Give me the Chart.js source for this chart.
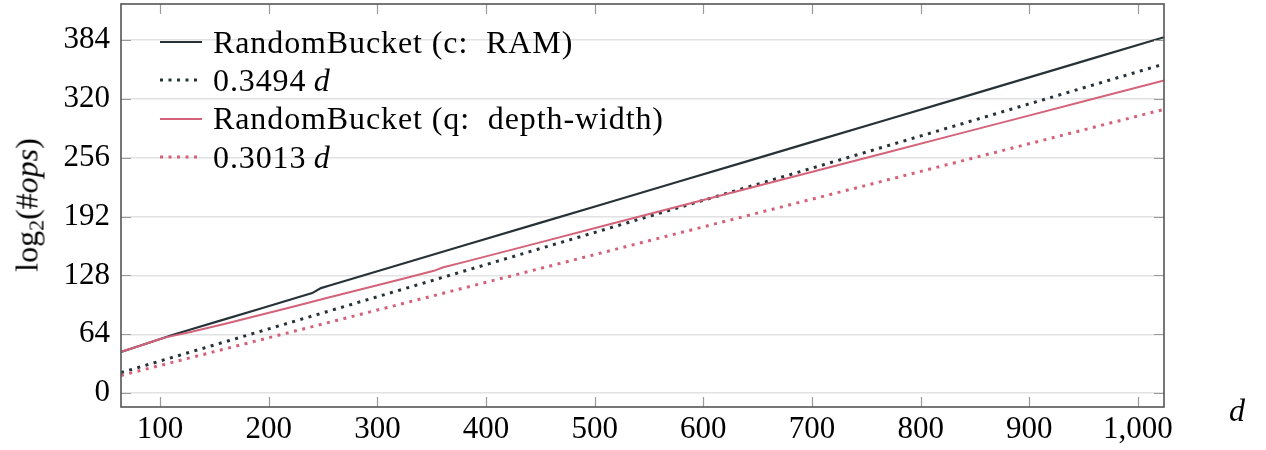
<!DOCTYPE html>
<html>
<head>
<meta charset="utf-8">
<script src="https://cdn.jsdelivr.net/npm/chart.js@4"></script>
<style>
  body { margin: 0; background: #fff; }
  #wrap { position: relative; width: 1266px; height: 450px; font-family: 'Liberation Serif', serif; color: #000; }
  #legend { position: absolute; left: 160px; top: 23px; font-size: 32px; letter-spacing: 0.9px; }
  .row { display: flex; align-items: center; height: 38.3px; }
  .row svg { margin-right: 11px; }
  #ytitle { position: absolute; left: 27px; top: 205px; font-size: 32px; white-space: nowrap;
            transform: translate(-50%, -50%) rotate(-90deg); }
  #ytitle sub { font-size: 22px; vertical-align: -6px; line-height: 0; }
  #xtitle { position: absolute; left: 1229px; top: 392px; font-size: 32px; font-style: italic; }
</style>
</head>
<body>
<div id="wrap">
  <canvas id="opsChart"></canvas>
  <div id="ytitle">log<sub>2</sub>(#<i>ops</i>)</div>
  <div id="xtitle">d</div>
  <div id="legend"></div>
</div>
<script>
// RandomBucket, classical RAM cost
const dRam = [64, 80, 96, 112, 128, 160, 192, 224, 240, 248, 256, 320, 384, 448, 512, 576, 640, 704, 768, 832, 896, 960, 1024];
const opsRam = [44.9, 51.0, 57.3, 63.5, 69.2, 80.5, 91.8, 103.2, 108.8, 114.2, 117.1, 139.6, 162.1, 184.6, 207.0, 229.5, 252.0, 274.5, 297.0, 319.4, 341.9, 364.4, 386.9];

// RandomBucket, quantum depth-width cost
const dQ = [64, 80, 96, 104, 128, 160, 192, 224, 256, 288, 320, 352, 360, 384, 448, 512, 576, 640, 704, 768, 832, 896, 960, 1024];
const opsQ = [44.9, 51.0, 57.3, 60.4, 66.5, 75.5, 85.0, 94.6, 104.2, 113.8, 123.4, 133.0, 136.6, 143.8, 163.4, 183.0, 202.6, 222.2, 241.8, 261.4, 281.0, 300.6, 320.2, 339.8];

// fitted lines (end points)
const dFit = [64, 1024];
const fitRam = [22.4, 357.8];
const fitQ = [19.3, 308.5];

const xTicks = [100, 200, 300, 400, 500, 600, 700, 800, 900, 1000];
const yTicks = [0, 64, 128, 192, 256, 320, 384];

const DARK = '#263238';
const RED = '#d4637a';

const toPoints = (xs, ys) => xs.map((x, i) => ({ x: x, y: ys[i] }));

const series = [
  { label: 'RandomBucket (c: RAM)', html: 'RandomBucket (c:&nbsp; RAM)', data: toPoints(dRam, opsRam), color: DARK, width: 2.2, dash: [] },
  { label: '0.3494 d', html: '0.3494&thinsp;<i>d</i>', data: toPoints(dFit, fitRam), color: DARK, width: 3, dash: [3, 5.5] },
  { label: 'RandomBucket (q: depth-width)', html: 'RandomBucket (q:&nbsp; depth-width)', data: toPoints(dQ, opsQ), color: RED, width: 2, dash: [] },
  { label: '0.3013 d', html: '0.3013&thinsp;<i>d</i>', data: toPoints(dFit, fitQ), color: RED, width: 3, dash: [3, 5.5] }
];

// inner tick marks on all four sides + frame
const frame = {
  id: 'frame',
  afterDraw(chart) {
    const ctx = chart.ctx;
    const { left, right, top, bottom } = chart.chartArea;
    const x = chart.scales.x;
    const y = chart.scales.y;
    ctx.save();
    ctx.strokeStyle = '#9a9a9a';
    ctx.lineWidth = 1.2;
    ctx.beginPath();
    xTicks.forEach((v) => {
      const px = Math.round(x.getPixelForValue(v)) + 0.5;
      ctx.moveTo(px, bottom); ctx.lineTo(px, bottom - 10);
      ctx.moveTo(px, top); ctx.lineTo(px, top + 10);
    });
    yTicks.forEach((v) => {
      const py = Math.round(y.getPixelForValue(v)) + 0.5;
      ctx.moveTo(left, py); ctx.lineTo(left + 10, py);
      ctx.moveTo(right, py); ctx.lineTo(right - 10, py);
    });
    ctx.stroke();
    ctx.strokeStyle = '#555';
    ctx.lineWidth = 1.6;
    ctx.strokeRect(left, top, right - left, bottom - top);
    ctx.restore();
  }
};

const tickFont = { family: "'Liberation Serif', serif", size: 31 };

const noPad = (scale) => {
  scale.paddingTop = 0;
  scale.paddingBottom = 0;
  scale.paddingLeft = 0;
  scale.paddingRight = 0;
};

new Chart(document.getElementById('opsChart'), {
  type: 'line',
  data: {
    datasets: series.map((s, i) => ({
      label: s.label,
      data: s.data,
      borderColor: s.color,
      backgroundColor: s.color,
      borderWidth: s.width,
      borderDash: s.dash,
      borderCapStyle: 'butt',
      pointRadius: 0,
      tension: 0,
      order: 3 - i
    }))
  },
  options: {
    responsive: true,
    maintainAspectRatio: false,
    animation: false,
    layout: { padding: { top: 4, right: 102, left: 0, bottom: 0 } },
    plugins: { legend: { display: false }, tooltip: { enabled: false } },
    scales: {
      x: {
        type: 'linear',
        min: 64,
        max: 1024,
        grid: { display: false },
        border: { display: false },
        afterBuildTicks: (scale) => { scale.ticks = xTicks.map((v) => ({ value: v })); },
        afterFit: (scale) => { scale.height = 43; noPad(scale); },
        ticks: {
          color: '#000',
          font: tickFont,
          padding: -4,
          maxRotation: 0,
          autoSkip: false,
          callback: (v) => v.toLocaleString('en-US')
        }
      },
      y: {
        type: 'linear',
        min: -15,
        max: 423,
        grid: { color: '#e2e2e2', lineWidth: 1.5, drawTicks: false },
        border: { display: false },
        afterBuildTicks: (scale) => { scale.ticks = yTicks.map((v) => ({ value: v })); },
        afterFit: (scale) => { scale.width = 121; noPad(scale); },
        ticks: {
          color: '#000',
          font: tickFont,
          padding: 11,
          autoSkip: false
        }
      }
    }
  },
  plugins: [frame]
});

// legend with italic d
const legendEl = document.getElementById('legend');
series.forEach((s) => {
  const row = document.createElement('div');
  row.className = 'row';
  const dash = s.dash.length ? ` stroke-dasharray="${s.dash.join(' ')}"` : '';
  row.innerHTML = `<svg width="42" height="10"><line x1="0" y1="5" x2="42" y2="5" stroke="${s.color}" stroke-width="${s.width}"${dash}/></svg><span>${s.html}</span>`;
  legendEl.appendChild(row);
});
</script>
</body>
</html>
